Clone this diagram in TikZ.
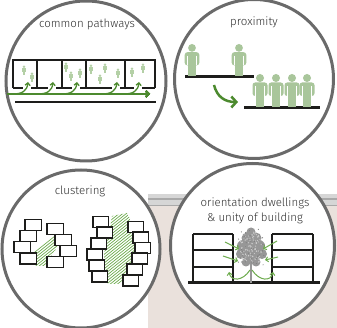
\documentclass[tikz,border=0pt]{standalone}
\usepackage{fontspec}
\setmainfont{Fira Sans Light}
\usepackage{tikz}
\usetikzlibrary{arrows.meta}

\definecolor{ringgray}{HTML}{6A6A6A}
\definecolor{inkblack}{HTML}{1D1D1B}
\definecolor{textgray}{HTML}{2E2E2E}
\definecolor{pathgreen}{HTML}{4C8A2E}
\definecolor{hatchgreen}{HTML}{6CAB4C}
\definecolor{figgreen}{HTML}{A9C69B}
\definecolor{palegreen}{HTML}{B4D0A6}
\definecolor{treegray}{HTML}{979797}
\definecolor{bandlight}{HTML}{D6D6D6}
\definecolor{banddark}{HTML}{A9A9A9}
\definecolor{wallpink}{HTML}{EAE1DC}

% pictogram of a person: x, feet y, height, colour
\newcommand{\pictoman}[4]{%
  \begin{scope}[shift={(#1,#2)}, scale=#3/33]
    \fill[#4] (0,-29) circle (4);
    \fill[#4, rounded corners=#3*0.08pt] (-7.5,-24.5) rectangle (7.5,-11);
    \fill[#4] (-4.3,-12) rectangle (-0.4,0);
    \fill[#4] (0.4,-12) rectangle (4.3,0);
    \draw[white, line width=#3*0.025pt] (-4.9,-21) -- (-4.9,-11) (4.9,-21) -- (4.9,-11);
  \end{scope}}
% small version without the arm gaps: x, feet y, colour
\newcommand{\tinyman}[3]{%
  \fill[#3] (#1,#2-8.3) circle (1.4pt);
  \fill[#3] (#1-1.9,#2-6.6) rectangle (#1+1.9,#2-3.2);
  \fill[#3] (#1-1.1,#2-3.4) rectangle (#1+1.1,#2);}

\begin{document}
\begin{tikzpicture}[x=1pt, y=-1pt,
    ring/.style={draw=ringgray, line width=3pt, fill=white},
    wall/.style={inkblack, line width=2.4pt},
    box/.style={draw=inkblack, line width=1.5pt, fill=white},
    lbl/.style={font=\fontsize{11.5}{15.5}\selectfont, text=textgray, inner sep=0pt},
    thinarrow/.style={hatchgreen, line width=1pt, -{Straight Barb[length=2.5pt,width=5pt]}}]
  \useasboundingbox (0,0) rectangle (337,328);

  % wall band and plaster behind the lower circles
  \fill[wallpink] (148,205) rectangle (337,328);
  \fill[bandlight] (148,194) rectangle (337,205);
  \fill[banddark] (148,198) rectangle (337,200.5);
  \draw[banddark, line width=.8pt] (148,205) -- (337,205);

  % the four circles
  \draw[ring] (86,81) circle (80pt);
  \draw[ring] (254,79) circle (79.5pt);
  \draw[ring] (81,249) circle (79pt);
  \draw[ring] (252.5,245.5) circle (82pt);

  \node[lbl] (pathways) at (87,24) {common pathways};
  \node[lbl] (proximity) at (254,22) {proximity};
  \node[lbl] (clustering) at (80,191) {clustering};
  \node[lbl, align=center] (orientation) at (255,211) {orientation dwellings\\\& unity of building};

  % common pathways: row of dwellings along a gallery
  \draw[wall] (13,88) -- (13,60) -- (155,60) -- (155,88);
  \foreach \x in {37,62,86,125}
    \draw[wall] (\x,60) -- (\x,88);
  \foreach \a/\b in {13/23, 31/48, 56/72, 80/112, 120/134, 142/155}
    \draw[wall] (\a,88) -- (\b,88);
  \foreach \x/\y in {24/75, 32/82, 66/72, 71/81, 80/78, 91/74, 100/84, 105/73, 118/78, 132/77, 143/73}
    \tinyman{\x}{\y}{palegreen}
  \draw[pathgreen, line width=1.6pt, -{Straight Barb[length=3pt,width=6pt]}] (7,94) -- (150,94);
  \foreach \h in {28,53,77,117,139}
    \draw[pathgreen, line width=1.3pt, -{Straight Barb[length=2.5pt,width=5pt]}]
      (\h-15,94) .. controls (\h-6,94) and (\h-1,91) .. (\h,82);
  \draw[wall] (15,102) -- (156,102);

  % proximity
  \draw[wall, line width=3pt] (185,77) -- (254,77);
  \draw[wall, line width=3pt] (244,108) -- (320,108);
  \foreach \x in {192,239}
    \pictoman{\x}{76}{32}{figgreen};
  \foreach \x in {260,276,292,307}
    \pictoman{\x}{107}{33}{figgreen};
  \draw[pathgreen, line width=2.5pt, -{Straight Barb[length=5pt,width=11pt]}]
    (214,85) .. controls (217,97) and (225,102) .. (238,102);

  % clustering
  \begin{scope}
    \clip (42,224) -- (47,226) -- (55,236) -- (58,246) -- (50,258) -- (45,266) -- (36,266)
      -- (33,258) -- (30,250) -- (32,240) -- (37,232) -- cycle;
    \foreach \k in {0,...,30}
      \draw[hatchgreen, line width=.7pt] (\k*3.6,280) -- ++(80,-64);
  \end{scope}
  \begin{scope}
    \clip (112,216) -- (127,213) -- (133,225) -- (136,240) -- (133,258) -- (126,272) -- (120,284)
      -- (108,284) -- (104,270) -- (104,255) -- (106,240) -- (110,228) -- cycle;
    \foreach \k in {0,...,40}
      \draw[hatchgreen, line width=.7pt] (\k*3.6+20,290) -- ++(100,-80);
  \end{scope}
  \foreach \x/\y in {25/219.5, 20/230.5, 14/241.5, 20/253, 47/223.5, 55/234.5, 60/245.5, 47/256.5}
    \draw[box] (\x,\y) rectangle ++(16.5,11);
  \foreach \x/\y in {93/216.5, 97/227, 91/238, 87/249, 89/260, 92/271,
                     128/221.5, 133/232, 135/242.5, 132/253, 127/264, 123/275}
    \draw[box] (\x,\y) rectangle ++(15.5,11);

  % orientation: two blocks and a tree
  \foreach \y in {234,250,267}
    \draw[inkblack, line width=1.2pt] (193,\y) -- (233,\y) (272,\y) -- (313,\y);
  \foreach \x in {193,233,272,313}
    \draw[inkblack, line width=1.2pt] (\x,234) -- (\x,283);
  \draw[wall, line width=3pt] (188,283) -- (320,283);
  \draw[treegray, line width=1.2pt] (251,258) -- (251,283);
  \foreach \x/\y/\r in {251/232/4.5, 247/238/5.5, 256/238/5.5, 243/246/6, 259/246/6, 251/245/8,
                        241/254/5, 262/254/5, 251/255/7.5, 246/262/4.5, 256/262/4.5}
    \fill[treegray] (\x,\y) circle (\r pt);
  \pgfmathsetseed{7}
  \foreach \i in {1,...,120}
    \fill[white, opacity=.5] ({251+11*rand},{247+15*rand}) circle (.6pt);
  \foreach \i in {1,...,50}
    \fill[treegray!85!black] ({251+13*rand},{247+18*rand}) circle (.6pt);
  \draw[thinarrow] (225,242) -- (239,249);
  \draw[thinarrow] (223,256) -- (238,261);
  \draw[thinarrow] (277,241) -- (263,249);
  \draw[thinarrow] (278,257) -- (265,260);
  \draw[thinarrow] (250,270) .. controls (243,281) and (231,282) .. (229,272);
  \draw[thinarrow] (252,270) .. controls (259,281) and (271,282) .. (273,272);
\end{tikzpicture}
\end{document}
